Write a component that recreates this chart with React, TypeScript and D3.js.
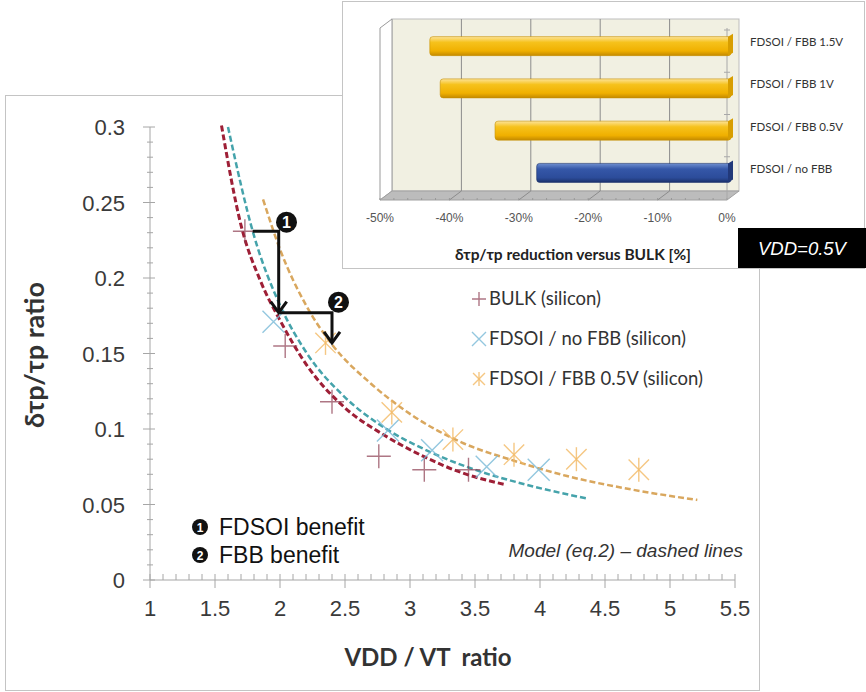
import { useEffect, useRef } from 'react';
import * as d3 from 'd3';

// main scatter: VDD/VT ratio vs delay variability
const xTicks = [1, 1.5, 2, 2.5, 3, 3.5, 4, 4.5, 5, 5.5];
const yTicks = [0, 0.05, 0.1, 0.15, 0.2, 0.25, 0.3];

const bulkX = [1.73, 2.04, 2.4, 2.76, 3.11, 3.45];
const bulkY = [0.231, 0.155, 0.118, 0.082, 0.073, 0.073];
const noFbbX = [1.95, 2.83, 3.17, 3.59, 3.99];
const noFbbY = [0.171, 0.099, 0.086, 0.075, 0.073];
const fbbX = [2.35, 2.86, 3.33, 3.8, 4.28, 4.76];
const fbbY = [0.157, 0.111, 0.093, 0.083, 0.08, 0.073];

// model curves (dashed)
const bulkModelX = [1.55, 1.7, 1.85, 2.0, 2.2, 2.5, 2.8, 3.1, 3.4, 3.74];
const bulkModelY = [0.301, 0.235, 0.198, 0.172, 0.143, 0.114, 0.096, 0.082, 0.071, 0.063];
const noFbbModelX = [1.6, 1.8, 2.0, 2.2, 2.5, 2.8, 3.1, 3.5, 3.9, 4.36];
const noFbbModelY = [0.3, 0.228, 0.182, 0.151, 0.121, 0.101, 0.087, 0.073, 0.063, 0.054];
const fbbModelX = [1.87, 2.0, 2.2, 2.4, 2.7, 3.0, 3.4, 3.8, 4.2, 4.7, 5.21];
const fbbModelY = [0.252, 0.219, 0.182, 0.156, 0.13, 0.11, 0.091, 0.079, 0.069, 0.06, 0.053];

const legendLabels = ['BULK (silicon)', 'FDSOI / no FBB (silicon)', 'FDSOI / FBB 0.5V (silicon)'];

// inset bar chart @ VDD=0.5V
const barCategories = ['FDSOI / FBB 1.5V', 'FDSOI / FBB 1V', 'FDSOI / FBB 0.5V', 'FDSOI / no FBB'];
const barValues = [-43.4, -41.9, -34, -28];
const barTicks = [-50, -40, -30, -20, -10, 0];

const W = 866;
const H = 692;

const App = () => {
    const svgRef = useRef<SVGSVGElement | null>(null);

    useEffect(() => {
        const svg = d3.select(svgRef.current);
        svg.selectAll('*').remove();

        const tickFont = "'Liberation Sans', Arial, sans-serif";
        const calibri = "Lato, 'Open Sans', sans-serif";

        const x = d3.scaleLinear().domain([1, 5.5]).range([150, 735]);
        const y = d3.scaleLinear().domain([0, 0.3]).range([580, 127]);

        // main frame
        svg.append('rect')
            .attr('x', 5.5).attr('y', 95.5)
            .attr('width', 754).attr('height', 595)
            .attr('fill', '#fff')
            .attr('stroke', '#c4c4c4');

        const axisColor = '#a6a6a6';
        const g = svg.append('g');

        // y axis + ticks
        g.append('line')
            .attr('x1', 150).attr('x2', 150)
            .attr('y1', y(0.3)).attr('y2', y(0))
            .attr('stroke', axisColor);
        d3.range(0, 0.3001, 0.01).forEach((v, i) => {
            const major = i % 5 === 0;
            g.append('line')
                .attr('x1', major ? 143 : 147).attr('x2', major ? 155 : 153)
                .attr('y1', y(v)).attr('y2', y(v))
                .attr('stroke', axisColor);
        });
        yTicks.forEach(v => {
            g.append('text')
                .attr('x', 125).attr('y', y(v) + 8)
                .attr('text-anchor', 'end')
                .attr('fill', '#3a3a3a')
                .style('font-family', tickFont)
                .style('font-size', '22px')
                .text(d3.format('~g')(v));
        });

        // x axis + ticks
        g.append('line')
            .attr('x1', x(1)).attr('x2', x(5.5))
            .attr('y1', y(0)).attr('y2', y(0))
            .attr('stroke', axisColor);
        d3.range(1, 5.5001, 0.1).forEach((v, i) => {
            const major = i % 5 === 0;
            g.append('line')
                .attr('x1', x(v)).attr('x2', x(v))
                .attr('y1', y(0) - 6).attr('y2', y(0) + (major ? 8 : 0))
                .attr('stroke', axisColor);
        });
        xTicks.forEach(v => {
            g.append('text')
                .attr('x', x(v)).attr('y', 616)
                .attr('text-anchor', 'middle')
                .attr('fill', '#3a3a3a')
                .style('font-family', tickFont)
                .style('font-size', '22px')
                .text(String(v));
        });

        // axis titles
        g.append('text')
            .attr('x', 428).attr('y', 666)
            .attr('text-anchor', 'middle')
            .attr('fill', '#333')
            .style('font-family', calibri)
            .style('font-weight', '700')
            .style('font-size', '24px')
            .style('white-space', 'pre')
            .text('VDD / VT  ratio');
        g.append('text')
            .attr('transform', 'translate(44,355) rotate(-90)')
            .attr('text-anchor', 'middle')
            .attr('fill', '#333')
            .style('font-family', calibri)
            .style('font-weight', '700')
            .style('font-size', '27px')
            .text('δτp/τp ratio');

        // dashed model curves
        const line = d3.line<[number, number]>()
            .x(d => x(d[0]))
            .y(d => y(d[1]))
            .curve(d3.curveMonotoneX);
        const models = [
            { xs: noFbbModelX, ys: noFbbModelY, color: '#45a3ab', w: 2.5 },
            { xs: fbbModelX, ys: fbbModelY, color: '#d9a75e', w: 2.5 },
            { xs: bulkModelX, ys: bulkModelY, color: '#9e1f36', w: 3 },
        ];
        models.forEach(m => {
            g.append('path')
                .attr('d', line(m.xs.map((v, i) => [v, m.ys[i]] as [number, number])))
                .attr('fill', 'none')
                .attr('stroke', m.color)
                .attr('stroke-width', m.w)
                .attr('stroke-dasharray', '6,3');
        });

        // markers
        const plus = (sel, cx, cy, s, color) => {
            sel.append('path')
                .attr('d', `M${cx - s},${cy}H${cx + s}M${cx},${cy - s}V${cy + s}`)
                .attr('stroke', color).attr('stroke-width', 1.4).attr('fill', 'none');
        };
        const cross = (sel, cx, cy, s, color) => {
            sel.append('path')
                .attr('d', `M${cx - s},${cy - s}L${cx + s},${cy + s}M${cx - s},${cy + s}L${cx + s},${cy - s}`)
                .attr('stroke', color).attr('stroke-width', 1.4).attr('fill', 'none');
        };
        const star = (sel, cx, cy, s, color) => {
            cross(sel, cx, cy, s * 0.85, color);
            sel.append('path')
                .attr('d', `M${cx},${cy - s}V${cy + s}`)
                .attr('stroke', color).attr('stroke-width', 1.4).attr('fill', 'none');
        };
        const bulkColor = 'rgba(140,60,80,0.7)';
        const noFbbColor = 'rgba(120,185,215,0.8)';
        const fbbColor = 'rgba(242,185,100,0.8)';

        bulkX.forEach((v, i) => plus(g, x(v), y(bulkY[i]), 12, bulkColor));
        noFbbX.forEach((v, i) => cross(g, x(v), y(noFbbY[i]), 11, noFbbColor));
        fbbX.forEach((v, i) => star(g, x(v), y(fbbY[i]), 12, fbbColor));

        // benefit arrows
        const arrows = [
            { x0: 1.79, x1: 1.99, y0: 0.231, y1: 0.177, label: '1', lx: 2.05, ly: 0.237 },
            { x0: 1.99, x1: 2.4, y0: 0.177, y1: 0.157, label: '2', lx: 2.45, ly: 0.184 },
        ];
        arrows.forEach(a => {
            g.append('path')
                .attr('d', `M${x(a.x0)},${y(a.y0)}H${x(a.x1)}V${y(a.y1)}`)
                .attr('fill', 'none')
                .attr('stroke', '#111')
                .attr('stroke-width', 3);
            const tx = x(a.x1), ty = y(a.y1);
            g.append('path')
                .attr('d', `M${tx - 8},${ty - 11}L${tx},${ty}L${tx + 8},${ty - 11}`)
                .attr('fill', 'none')
                .attr('stroke', '#111')
                .attr('stroke-width', 3);
            g.append('circle')
                .attr('cx', x(a.lx)).attr('cy', y(a.ly))
                .attr('r', 10.5)
                .attr('fill', '#111');
            g.append('text')
                .attr('x', x(a.lx)).attr('y', y(a.ly) + 6)
                .attr('text-anchor', 'middle')
                .attr('fill', '#fff')
                .style('font-family', tickFont)
                .style('font-weight', '700')
                .style('font-size', '16px')
                .text(a.label);
        });

        // legend
        const legMarkers = [plus, cross, star];
        const legColors = [bulkColor, noFbbColor, fbbColor];
        legendLabels.forEach((lab, i) => {
            const ly = 299 + i * 40;
            legMarkers[i](g, 479, ly, 7, legColors[i]);
            g.append('text')
                .attr('x', 489).attr('y', ly + 6)
                .attr('fill', '#333')
                .style('font-family', calibri)
                .style('font-size', '18.5px')
                .text(lab);
        });

        // bottom-left notes
        ['FDSOI benefit', 'FBB benefit'].forEach((t, i) => {
            const ny = 527 + i * 28;
            g.append('circle').attr('cx', 200).attr('cy', ny).attr('r', 8).attr('fill', '#111');
            g.append('text')
                .attr('x', 200).attr('y', ny + 4.5)
                .attr('text-anchor', 'middle')
                .attr('fill', '#fff')
                .style('font-family', tickFont)
                .style('font-weight', '700')
                .style('font-size', '12px')
                .text(String(i + 1));
            g.append('text')
                .attr('x', 219).attr('y', ny + 8)
                .attr('fill', '#111')
                .style('font-family', tickFont)
                .style('font-size', '23px')
                .text(t);
        });
        g.append('text')
            .attr('x', 743).attr('y', 557)
            .attr('text-anchor', 'end')
            .attr('fill', '#333')
            .style('font-family', tickFont)
            .style('font-style', 'italic')
            .style('font-size', '19px')
            .text('Model (eq.2) – dashed lines');

        // ---------- inset ----------
        const ins = svg.append('g');
        ins.append('rect')
            .attr('x', 342.5).attr('y', 1.5)
            .attr('width', 522).attr('height', 267)
            .attr('fill', '#fff')
            .attr('stroke', '#c4c4c4');

        const xb = d3.scaleLinear().domain([-50, 0]).range([380, 727]);
        const yb = d3.scaleBand().domain(barCategories).range([30, 199]);
        const dx = 12, dy = -9;
        const top = 28, bottom = 200;

        // back wall
        ins.append('rect')
            .attr('x', xb(-50) + dx).attr('y', top + dy)
            .attr('width', xb(0) - xb(-50)).attr('height', bottom - top)
            .attr('fill', '#f1f0e2')
            .attr('stroke', '#bdbdbd');
        // left wall
        ins.append('path')
            .attr('d', `M${xb(-50)},${top}L${xb(-50) + dx},${top + dy}V${bottom + dy}L${xb(-50)},${bottom}Z`)
            .attr('fill', '#fff')
            .attr('stroke', '#9a9a9a');
        // floor
        ins.append('path')
            .attr('d', `M${xb(-50)},${bottom}L${xb(-50) + dx},${bottom + dy}H${xb(0) + dx}L${xb(0)},${bottom}Z`)
            .attr('fill', '#bcbcbc')
            .attr('stroke', '#a0a0a0');
        // gridlines
        barTicks.slice(1, -1).forEach(v => {
            ins.append('path')
                .attr('d', `M${xb(v)},${bottom}L${xb(v) + dx},${bottom + dy}V${top + dy}`)
                .attr('fill', 'none')
                .attr('stroke', '#8c8c8c');
        });
        d3.range(-50, 0.01, 2).forEach(v => {
            ins.append('line')
                .attr('x1', xb(v)).attr('x2', xb(v))
                .attr('y1', bottom).attr('y2', bottom - 2)
                .attr('stroke', '#999');
        });
        // category axis at 0%
        ins.append('line')
            .attr('x1', xb(0)).attr('x2', xb(0))
            .attr('y1', top).attr('y2', bottom)
            .attr('stroke', '#a8a8a8');
        yb.domain().forEach(c => {
            ins.append('line')
                .attr('x1', xb(0) - 3).attr('x2', xb(0) + 3)
                .attr('y1', yb(c)).attr('y2', yb(c))
                .attr('stroke', '#a8a8a8');
        });

        // bar gradients
        const defs = svg.append('defs');
        const grad = (id, stops) => {
            const lg = defs.append('linearGradient').attr('id', id)
                .attr('x1', 0).attr('x2', 0).attr('y1', 0).attr('y2', 1);
            stops.forEach(([o, c]) => lg.append('stop').attr('offset', o).attr('stop-color', c));
        };
        grad('gold', [[0, '#fde49a'], [0.3, '#f6c21c'], [0.75, '#f0b000'], [1, '#c48a00']]);
        grad('blue', [[0, '#6f8fd0'], [0.3, '#3557a8'], [0.75, '#2c4c9a'], [1, '#1c326c']]);

        const bh = 19;
        barCategories.forEach((c, i) => {
            const cy = (yb(c) ?? 0) + yb.bandwidth() / 2 - 5;
            const x0 = xb(barValues[i]) + 4;
            const x1 = xb(0) + 4;
            const isBlue = i === barCategories.length - 1;
            ins.append('rect')
                .attr('x', x0).attr('y', cy - bh / 2)
                .attr('width', x1 - x0).attr('height', bh)
                .attr('rx', 3)
                .attr('fill', isBlue ? 'url(#blue)' : 'url(#gold)')
                .attr('stroke', isBlue ? '#1c326c' : '#c79000')
                .attr('stroke-width', 0.6);
            ins.append('path')
                .attr('d', `M${x1 - 3},${cy - bh / 2}L${x1 + 2},${cy - bh / 2 - 3}V${cy + bh / 2 - 3}L${x1 - 3},${cy + bh / 2}Z`)
                .attr('fill', isBlue ? '#22397a' : '#d89e00');
            ins.append('text')
                .attr('x', 750).attr('y', (yb(c) ?? 0) + yb.bandwidth() / 2 - 5)
                .attr('fill', '#333')
                .style('font-family', calibri)
                .style('font-size', '11.5px')
                .text(c);
        });

        barTicks.forEach(v => {
            ins.append('text')
                .attr('x', xb(v)).attr('y', 222)
                .attr('text-anchor', 'middle')
                .attr('fill', '#555')
                .style('font-family', tickFont)
                .style('font-size', '12px')
                .text(`${v}%`);
        });
        ins.append('text')
            .attr('x', 573).attr('y', 260)
            .attr('text-anchor', 'middle')
            .attr('fill', '#222')
            .style('font-family', calibri)
            .style('font-weight', '700')
            .style('font-size', '15.5px')
            .text('δτp/τp reduction versus BULK [%]');

        // VDD label box
        ins.append('rect')
            .attr('x', 738).attr('y', 228)
            .attr('width', 128).attr('height', 40)
            .attr('fill', '#000');
        ins.append('text')
            .attr('x', 802).attr('y', 255)
            .attr('text-anchor', 'middle')
            .attr('fill', '#fff')
            .style('font-family', tickFont)
            .style('font-style', 'italic')
            .style('font-size', '18.5px')
            .text('VDD=0.5V');
    }, []);

    return (
        <div style={{ position: 'absolute', left: 0, top: 0, width: W, height: H, background: '#fff' }}>
            <svg ref={svgRef} width={W} height={H} />
        </div>
    );
};

export default App;
